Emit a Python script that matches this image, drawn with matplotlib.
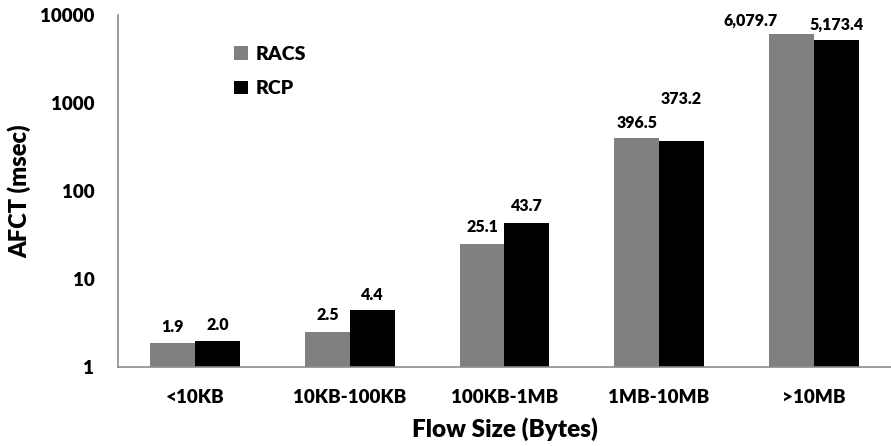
import numpy as np
import matplotlib
matplotlib.use("Agg")
import matplotlib.pyplot as plt

categories = ["<10KB", "10KB-100KB", "100KB-1MB", "1MB-10MB", ">10MB"]
racs = [1.9, 2.5, 25.1, 396.5, 6079.7]
rcp = [2.0, 4.4, 43.7, 373.2, 5173.4]
y_ticks = [1, 10, 100, 1000, 10000]

# label nudges in points (dx, dy) above each bar top
racs_offsets = [(0, 11), (0, 12), (0, 12), (0, 11), (-29, 10)]
rcp_offsets = [(0, 11), (0, 11), (0, 12), (0, 30), (0, 11)]

plt.rcParams["font.family"] = ["Lato", "DejaVu Sans"]
plt.rcParams["font.weight"] = "heavy"

fig = plt.figure(figsize=(8.91, 4.46), dpi=100)
ax = fig.add_axes([0.1324, 0.177, 0.8676, 0.789])

x = np.arange(len(categories))
w = 0.29
ax.bar(x - w / 2, racs, w, color="#808080", label="RACS")
ax.bar(x + w / 2, rcp, w, color="#000000", label="RCP")

ax.set_yscale("log")
ax.set_ylim(1, 10000)
ax.set_xlim(-0.5, 4.5)
ax.set_yticks(y_ticks)
ax.set_yticklabels([str(t) for t in y_ticks])
ax.minorticks_off()
ax.set_xticks(x)
ax.set_xticklabels(categories)
ax.tick_params(axis="both", length=0, labelsize=13.5)
ax.tick_params(axis="y", pad=17)
ax.tick_params(axis="x", pad=16)

for s in ["top", "right"]:
    ax.spines[s].set_visible(False)
ax.spines["left"].set_color("#8c8c8c")
ax.spines["bottom"].set_color("#8c8c8c")
ax.spines["left"].set_linewidth(1.2)
ax.spines["bottom"].set_linewidth(1.2)

for xi, v, off in zip(x - w / 2, racs, racs_offsets):
    ax.annotate(f"{v:,.1f}", (xi, v), xytext=off, textcoords="offset points",
                ha="center", va="center", fontsize=11.5, fontweight="heavy")
for xi, v, off in zip(x + w / 2, rcp, rcp_offsets):
    ax.annotate(f"{v:,.1f}", (xi, v), xytext=off, textcoords="offset points",
                ha="center", va="center", fontsize=11.5, fontweight="heavy")

ax.set_xlabel("Flow Size (Bytes)", fontsize=17.5, fontweight="heavy", labelpad=8)
ax.set_ylabel("AFCT (msec)", fontsize=17, fontweight="heavy", labelpad=6)

ax.legend(loc="upper left", bbox_to_anchor=(0.14, 0.935), frameon=False,
          fontsize=14, handlelength=0.7, handleheight=0.7, handletextpad=0.4,
          labelspacing=0.9, borderaxespad=0)

fig.savefig("out.png", dpi=100)
